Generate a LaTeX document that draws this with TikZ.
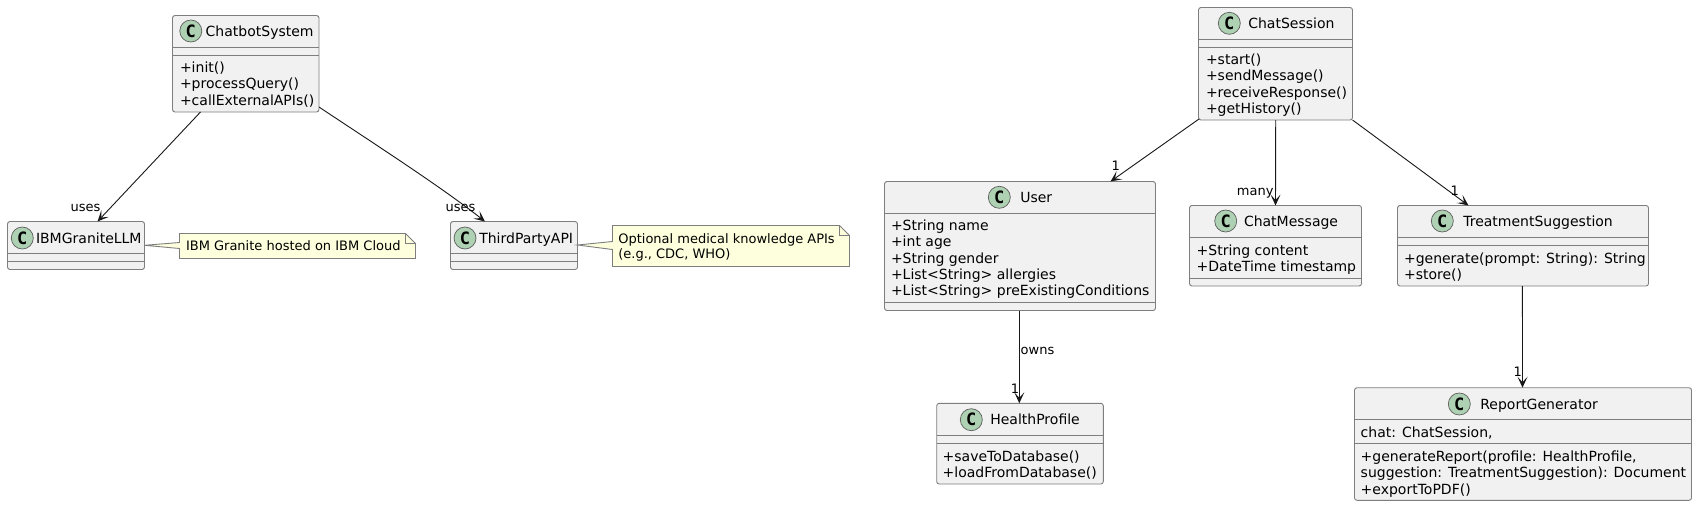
\documentclass[tikz,border=0pt]{standalone}
\usepackage{fontspec}
\setmainfont{DejaVu Sans}
\newfontfamily\cfont{DejaVu Sans Mono}[BoldFont={DejaVu Sans Mono Bold}]
\usetikzlibrary{arrows.meta,calc}
\definecolor{edge}{HTML}{181818}
\definecolor{frame}{HTML}{7E7E7E}
\definecolor{klassfill}{HTML}{F1F1F1}
\definecolor{notefill}{HTML}{FEFFDD}
\definecolor{spot}{HTML}{ADD1B2}
\tikzset{
  klassbox/.style={draw=frame,line width=0.9pt,fill=klassfill,rounded corners=2.5pt,inner sep=0pt,outer sep=0pt},
  sepline/.style={draw=frame,line width=0.9pt},
  spotc/.style={circle,draw=edge!70!white,line width=0.7pt,fill=spot,minimum size=22pt,inner sep=0pt,outer sep=0pt,font=\cfont\bfseries\fontsize{17}{17}\selectfont},
  titletext/.style={anchor=base west,inner sep=0pt,outer sep=0pt,font=\fontsize{14}{16}\selectfont},
  membertext/.style={anchor=base west,inner sep=0pt,outer sep=0pt,font=\fontsize{14}{16}\selectfont},
  linklabel/.style={anchor=base,inner sep=0pt,outer sep=0pt,font=\fontsize{13}{15}\selectfont},
  notetext/.style={anchor=base west,inner sep=0pt,outer sep=0pt,font=\fontsize{13}{15}\selectfont},
  noteshape/.style={draw=frame,line width=0.9pt,fill=notefill},
  conn/.style={draw=edge,line width=0.9pt,-{Stealth[length=11pt,width=10pt,inset=5.5pt,line width=0pt]}},
}
\newcount\mc
% name x1 y1 x2 y2 line1 line2
\newcommand{\klass}[7]{%
  \node[klassbox,minimum width=#4pt-#2pt,minimum height=#5pt-#3pt] (#1) at ({(#2+#4)/2},{(#3+#5)/2}) {};
  \draw[sepline] (#1.west |- 0,#6) -- (#1.east |- 0,#6);
  \draw[sepline] (#1.west |- 0,#7) -- (#1.east |- 0,#7);
}
% name cx cy tx title
\newcommand{\ktitle}[5]{%
  \node[spotc] (#1spot) at (#2,#3) {C};
  \node[titletext] (#1title) at (#4,#3+5) {#5};
}
\newcommand{\mem}[3]{%
  \global\advance\mc by 1
  \node[membertext] (m\the\mc) at (#1,#2+5) {#3};
}
\begin{document}
\begin{tikzpicture}[x=1pt,y=-1pt]
\path[use as bounding box,fill=white] (0,0) rectangle (1697,506);

% classes
\klass{chatbot}{172.5}{15.5}{319}{112}{47}{55}
\ktitle{chatbot}{190.8}{31}{205.7}{ChatbotSystem}
\mem{180}{67.3}{+init()}
\mem{180}{83.3}{+processQuery()}
\mem{180}{100}{+callExternalAPIs()}

\klass{ibm}{7.5}{221.5}{144.5}{269.5}{253.5}{261.5}
\ktitle{ibm}{22.3}{238}{36}{IBMGraniteLLM}

\klass{third}{450.5}{221.5}{577.5}{269.5}{253.5}{261.5}
\ktitle{third}{465}{238}{479.3}{ThirdPartyAPI}

\klass{session}{1198.5}{7.5}{1352.5}{120}{39.5}{47.5}
\ktitle{session}{1229.3}{23.3}{1248.3}{ChatSession}
\mem{1206}{59}{+start()}
\mem{1206}{75}{+sendMessage()}
\mem{1206}{92}{+receiveResponse()}
\mem{1206}{108}{+getHistory()}

\klass{message}{1189.5}{205.5}{1361.5}{286}{237.5}{278}
\ktitle{message}{1225.7}{221}{1244}{ChatMessage}
\mem{1196.7}{250}{+String content}
\mem{1196.7}{266}{+DateTime timestamp}

\klass{treat}{1397.5}{205.5}{1648.5}{286}{237.5}{245.5}
\ktitle{treat}{1442.3}{221}{1463.3}{TreatmentSuggestion}
\mem{1404}{258}{+generate(prompt: String): String}
\mem{1404}{274}{+store()}

\klass{user}{884.5}{181.5}{1155.5}{310.5}{213.5}{302.5}
\ktitle{user}{999.3}{197.3}{1020.3}{User}
\mem{891}{225}{+String name}
\mem{891}{241.5}{+int age}
\mem{891}{258}{+String gender}
\mem{891}{274}{+List<String> allergies}
\mem{891}{290}{+List<String> preExistingConditions}

\klass{health}{936.7}{403.3}{1103.3}{484}{435.3}{443.3}
\ktitle{health}{971.3}{419.7}{990.3}{HealthProfile}
\mem{942.7}{456}{+saveToDatabase()}
\mem{942.7}{472}{+loadFromDatabase()}

\klass{report}{1354.5}{387.7}{1691.5}{500.3}{419.5}{443.3}
\ktitle{report}{1459.3}{404}{1480.3}{ReportGenerator}
\mem{1360.7}{432.3}{chat: ChatSession,}
\mem{1360.7}{456}{+generateReport(profile: HealthProfile,}
\mem{1360.7}{472.7}{suggestion: TreatmentSuggestion): Document}
\mem{1360.7}{489.3}{+exportToPDF()}

% notes
\path[noteshape] (ibm.east |- 0,245.3) -- (179.5,242.5) -- (179.5,233.5) -- (405.5,233.5) -- (415.5,243.5) -- (415.5,258.5) -- (179.5,258.5) -- (179.5,248.5) -- cycle;
\draw[sepline] (405.5,233.5) -- (405.5,243.5) -- (415.5,243.5);
\path[noteshape] (third.east |- 0,245) -- (612.5,241.5) -- (612.5,225.5) -- (839.5,225.5) -- (849.5,235.5) -- (849.5,266.5) -- (612.5,266.5) -- (612.5,249.5) -- cycle;
\draw[sepline] (839.5,225.5) -- (839.5,235.5) -- (849.5,235.5);
\node[notetext] (noteone) at (186,250) {IBM Granite hosted on IBM Cloud};
\node[notetext] (notetwo) at (618.3,243.5) {Optional medical knowledge APIs};
\node[notetext] (notetwob) at (618.3,258.5) {(e.g., CDC, WHO)};

% connectors
\draw[conn] ($(chatbot.south west)+(28,0)$) -- ($(ibm.north west)+(90,0)$);
\draw[conn] ($(chatbot.south east)+(0,-5)$) .. controls (370,141) and (440,186) .. ($(third.north west)+(34.5,0)$);
\draw[conn] ($(session.south west)+(0.5,-1)$) -- ($(user.north west)+(226,0)$);
\draw[conn] ($(session.south west)+(77.2,0)$) -- ($(message.north west)+(86,0)$);
\draw[conn] ($(session.south east)+(0,0)$) -- ($(treat.north west)+(71,0)$);
\draw[conn] ($(user.south west)+(134.8,0)$) -- ($(health.north west)+(82.6,0)$);
\draw[conn] ($(treat.south west)+(124.9,0)$) -- ($(report.north west)+(168,0)$);

% labels
\node[linklabel] (l1) at (85.6,211.5) {uses};
\node[linklabel] (l2) at (460.5,211.5) {uses};
\node[linklabel] (l3) at (1115.7,170) {1};
\node[linklabel] (l4) at (1255.2,195.5) {many};
\node[linklabel] (l5) at (1454.7,195.5) {1};
\node[linklabel] (l6) at (1037.5,354.5) {owns};
\node[linklabel] (l7) at (1015,393) {1};
\node[linklabel] (l8) at (1517.7,376) {1};
\end{tikzpicture}
\end{document}
